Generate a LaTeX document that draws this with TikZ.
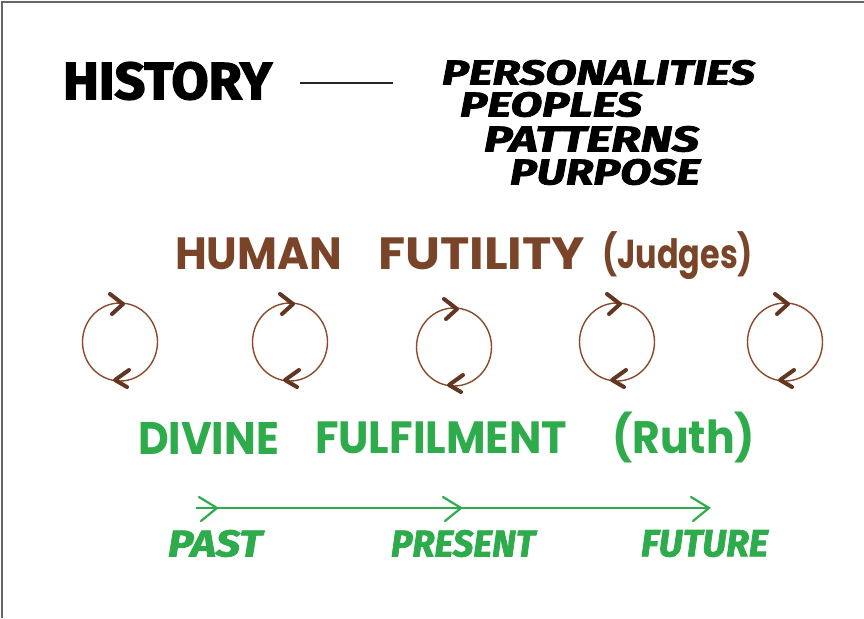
\documentclass[tikz,border=0pt]{standalone}
\usepackage{fontspec}
\usepackage{graphicx}
\newfontfamily\heavyfont{Fira Sans}[FakeBold=2.5]
\newfontfamily\brushfont{Fira Sans}[FakeBold=2]
\newfontfamily\roundfont{Poppins}
\usetikzlibrary{arrows.meta}
\definecolor{hbrown}{HTML}{7A4428}
\definecolor{cbrown}{HTML}{8C4A2A}
\definecolor{hgreen}{HTML}{2EAB4B}
\definecolor{framegray}{HTML}{666666}
\newcommand{\fitbox}[3]{\resizebox*{#1pt}{#2pt}{#3}}
\tikzset{
  txt/.style={inner sep=0pt, outer sep=0pt, anchor=north west},
  loopline/.style={draw=cbrown, line width=1.4pt},
  loopchev/.style={draw=hbrown!80!black, line width=4pt, line cap=round, line join=round},
  timeline/.style={draw=hgreen, line width=2pt},
  timechev/.style={draw=hgreen, line width=2.2pt, line cap=round, line join=miter},
}
\begin{document}
\begin{tikzpicture}[x=1pt,y=-1pt]
\useasboundingbox (0,0) rectangle (864,618);
\fill[white] (0,0) rectangle (864,618);
% frame
\draw[framegray, line width=2pt] (2,618) -- (2,2) -- (864,2);

% top block
\node[txt] (history) at (63,62) {\fitbox{209}{38}{\heavyfont\bfseries HISTORY}};
\coordinate (dashL) at (300,83);
\coordinate (dashR) at (393,83);
\draw[line width=2pt, black!85] (dashL) -- (dashR);
\node[txt] (pers) at (442,60) {\fitbox{313}{25}{\brushfont\bfseries\itshape PERSONALITIES}};
\node[txt] (peop) at (460,92) {\fitbox{182}{25}{\brushfont\bfseries\itshape PEOPLES}};
\node[txt] (patt) at (484,126) {\fitbox{215}{26}{\brushfont\bfseries\itshape PATTERNS}};
\node[txt] (purp) at (510,159) {\fitbox{190}{26}{\brushfont\bfseries\itshape PURPOSE}};

% human futility
\node[txt, text=hbrown] (human) at (175,238) {\fitbox{167}{32}{\roundfont\bfseries HUMAN}};
\node[txt, text=hbrown] (futil) at (378,238) {\fitbox{207}{32}{\roundfont\bfseries FUTILITY}};
\node[txt, text=hbrown] (judges) at (602,232) {\fitbox{151}{48}{\roundfont\bfseries (Judges)}};

% cycles
\foreach \i/\cx/\cy in {1/120/342, 2/290/342, 3/454/347, 4/617/342, 5/785/342}{
  \coordinate (c\i) at (\cx,\cy);
  \draw[loopline] (c\i) ellipse (37.5 and 39);
  \coordinate (top\i) at (\cx+3,\cy-38);
  \coordinate (bot\i) at (\cx-5,\cy+38);
  \draw[loopchev] ([shift={(-13,-10)}]top\i) -- (top\i) -- ([shift={(-11,10)}]top\i);
  \draw[loopchev] ([shift={(14,-10)}]bot\i) -- (bot\i) -- ([shift={(12,7)}]bot\i);
}

% divine fulfilment
\node[txt, text=hgreen] (divine) at (138,422) {\fitbox{141}{32}{\roundfont\bfseries DIVINE}};
\node[txt, text=hgreen] (fulfil) at (315,422) {\fitbox{252}{32}{\roundfont\bfseries FULFILMENT}};
\node[txt, text=hgreen] (ruth) at (612,412) {\fitbox{143}{51}{\roundfont\bfseries (Ruth)}};

% timeline
\coordinate (tstart) at (196,508);
\coordinate (t1) at (217,508);
\coordinate (t2) at (461,508);
\coordinate (t3) at (709,508);
\draw[timeline] (tstart) -- (t3);
\foreach \t in {t1,t2,t3}{
  \draw[timechev] ([shift={(-18,-11)}]\t) -- (\t) -- ([shift={(-16,13)}]\t);
}
\node[txt, text=hgreen] (past) at (168,530) {\fitbox{94}{27}{\brushfont\bfseries\itshape PAST}};
\node[txt, text=hgreen] (present) at (391,530) {\fitbox{144}{27}{\brushfont\bfseries\itshape PRESENT}};
\node[txt, text=hgreen] (future) at (641,530) {\fitbox{127}{27}{\brushfont\bfseries\itshape FUTURE}};
\end{tikzpicture}
\end{document}
